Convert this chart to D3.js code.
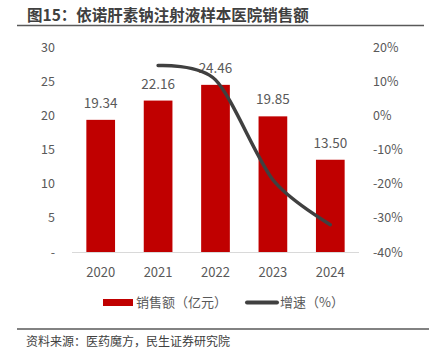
<!DOCTYPE html>
<html>
<head>
<meta charset="utf-8">
<script src="https://cdn.jsdelivr.net/npm/d3@7/dist/d3.min.js"></script>
<style>
  body { margin: 0; background: #fff; }
  svg text { font-family: "Microsoft YaHei", "Noto Sans CJK SC", sans-serif; }
</style>
</head>
<body>
<svg id="chart" width="429" height="361"></svg>
<script>
// data
const years = ["2020", "2021", "2022", "2023", "2024"];
const sales = [19.34, 22.16, 24.46, 19.85, 13.50];
const growth = [null, 14.58, 10.38, -18.85, -31.99];
const leftTicks = [0, 5, 10, 15, 20, 25, 30];
const rightTicks = [20, 10, 0, -10, -20, -30, -40];

const svg = d3.select("#chart");

// plot area
const plotL = 72, plotR = 359, plotT = 47, plotB = 252;

const x = d3.scaleBand().domain(years).range([plotL, plotR]).paddingInner(0.5).paddingOuter(0.25);
const yL = d3.scaleLinear().domain([0, 30]).range([plotB, plotT]);
const yR = d3.scaleLinear().domain([-40, 20]).range([plotB, plotT]);

// title + rule
svg.append("text")
    .attr("x", 27).attr("y", 21)
    .attr("font-size", 15.5).attr("font-weight", "bold")
    .attr("fill", "#404040")
    .text("图15：依诺肝素钠注射液样本医院销售额");
svg.append("line")
    .attr("x1", 17).attr("x2", 424).attr("y1", 25.5).attr("y2", 25.5)
    .attr("stroke", "#595959").attr("stroke-width", 1.5);

// left axis labels
svg.append("g").selectAll("text")
    .data(leftTicks)
    .enter().append("text")
    .attr("x", 55)
    .attr("y", d => yL(d) + 4.5)
    .attr("text-anchor", "end")
    .attr("font-size", 12.5)
    .attr("fill", "#595959")
    .text(d => d === 0 ? "-" : d);

// right axis labels
svg.append("g").selectAll("text")
    .data(rightTicks)
    .enter().append("text")
    .attr("x", 373)
    .attr("y", d => yR(d) + 4.5)
    .attr("font-size", 12.5)
    .attr("fill", "#595959")
    .text(d => d + "%");

// bars
svg.append("g").selectAll("rect")
    .data(sales)
    .enter().append("rect")
    .attr("x", (d, i) => x(years[i]))
    .attr("y", d => yL(d))
    .attr("width", x.bandwidth())
    .attr("height", d => plotB - yL(d))
    .attr("fill", "#C00000");

// bar value labels
svg.append("g").selectAll("text")
    .data(sales)
    .enter().append("text")
    .attr("x", (d, i) => x(years[i]) + x.bandwidth() / 2)
    .attr("y", d => yL(d) - 12)
    .attr("text-anchor", "middle")
    .attr("font-size", 13.5)
    .attr("fill", "#595959")
    .text(d => d.toFixed(2));

// baseline
svg.append("line")
    .attr("x1", plotL).attr("x2", plotR).attr("y1", plotB + 0.5).attr("y2", plotB + 0.5)
    .attr("stroke", "#d9d9d9").attr("stroke-width", 1);

// year labels
svg.append("g").selectAll("text")
    .data(years)
    .enter().append("text")
    .attr("x", d => x(d) + x.bandwidth() / 2)
    .attr("y", 276.5)
    .attr("text-anchor", "middle")
    .attr("font-size", 13)
    .attr("fill", "#595959")
    .text(d => d);

// growth line (smoothed)
const pts = years.map((yr, i) => [yr, growth[i]]).filter(p => p[1] !== null);
const line = d3.line()
    .x(d => x(d[0]) + x.bandwidth() / 2)
    .y(d => yR(d[1]))
    .curve(d3.curveCardinal.tension(0.15));
svg.append("path")
    .datum(pts)
    .attr("d", line)
    .attr("fill", "none")
    .attr("stroke", "#404040")
    .attr("stroke-width", 3.5)
    .attr("stroke-linecap", "round");

// legend
const lg = svg.append("g");
lg.append("rect")
    .attr("x", 103).attr("y", 299).attr("width", 30).attr("height", 7)
    .attr("fill", "#C00000");
lg.append("text")
    .attr("x", 136).attr("y", 307)
    .attr("font-size", 13).attr("fill", "#595959")
    .text("销售额（亿元）");
lg.append("line")
    .attr("x1", 247).attr("x2", 277).attr("y1", 302.5).attr("y2", 302.5)
    .attr("stroke", "#404040").attr("stroke-width", 4).attr("stroke-linecap", "round");
lg.append("text")
    .attr("x", 280).attr("y", 307)
    .attr("font-size", 13).attr("fill", "#595959")
    .text("增速（%）");

// footer
svg.append("line")
    .attr("x1", 17).attr("x2", 429).attr("y1", 329).attr("y2", 329)
    .attr("stroke", "#595959").attr("stroke-width", 1.5);
svg.append("text")
    .attr("x", 26).attr("y", 346)
    .attr("font-size", 12).attr("fill", "#404040")
    .text("资料来源：医药魔方，民生证券研究院");
</script>
</body>
</html>
